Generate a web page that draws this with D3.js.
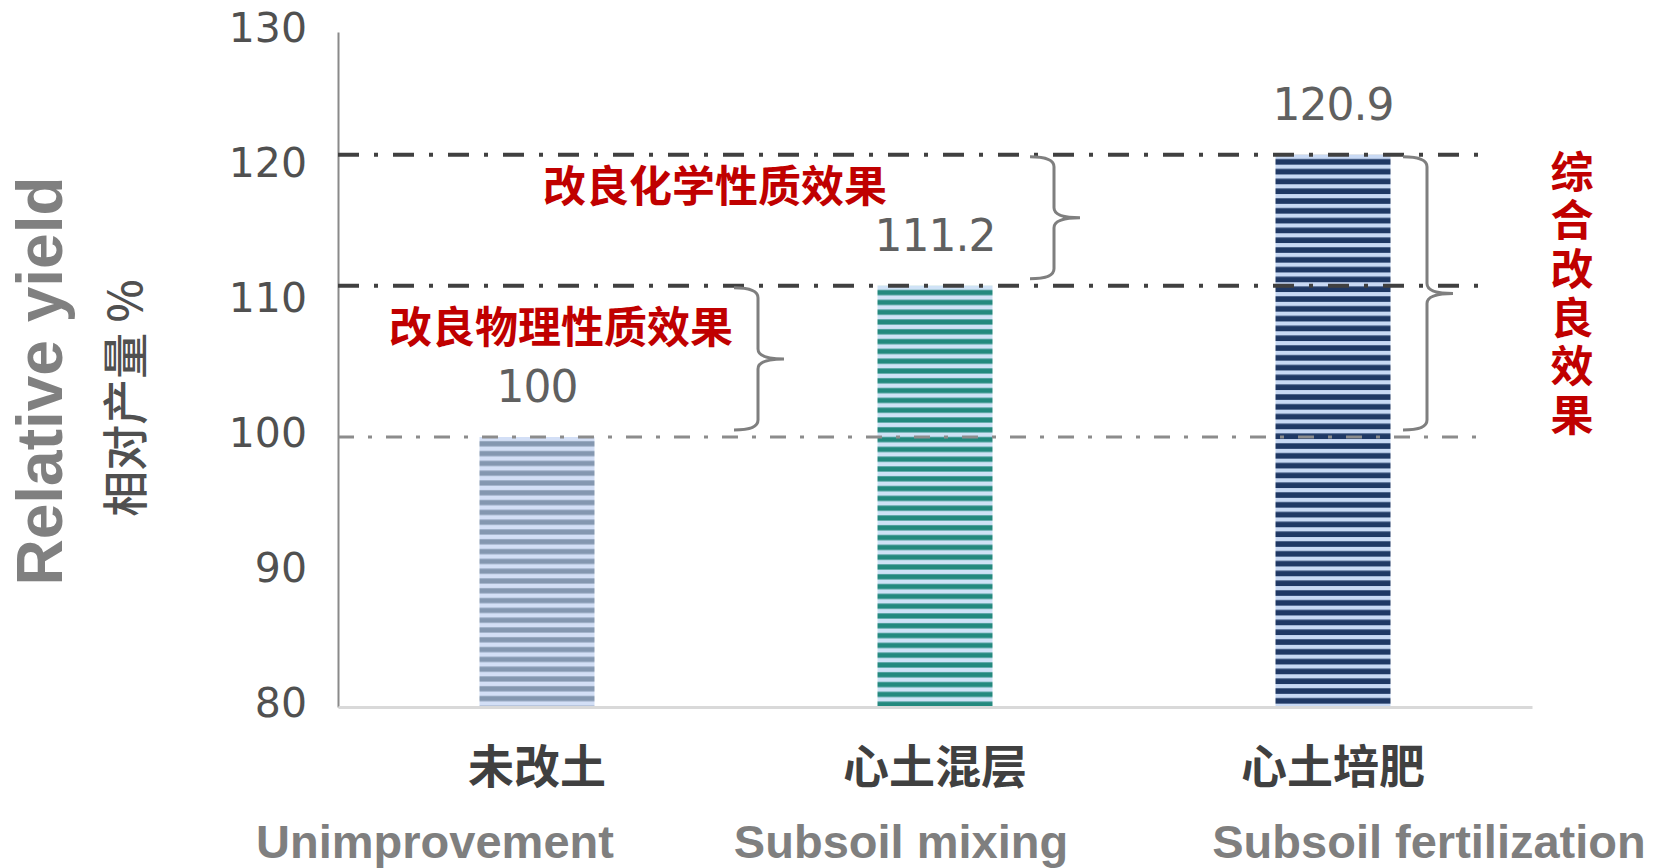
<!DOCTYPE html>
<html>
<head>
<meta charset="utf-8">
<style>
  body { margin: 0; background: #fff; }
  svg { display: block; }
</style>
</head>
<body>

<svg></svg>

<script src="https://d3js.org/d3.v7.min.js"></script>
<script>

// data
const categoriesZh = ["未改土", "心土混层", "心土培肥"];
const categoriesEn = ["Unimprovement", "Subsoil mixing", "Subsoil fertilization"];
const yields = [100, 111.2, 120.9];
const valueLabels = ["100", "111.2", "120.9"];
const yTicks = [80, 90, 100, 110, 120, 130];
const effectNames = ["改良物理性质效果", "改良化学性质效果", "综合改良效果"];
const effectRanges = [[100, 111.2], [111.2, 120.9], [100, 120.9]];

const width = 1654;
const height = 868;

const barColors = [
  { dark: "#8497b0", light: "#d3dff6" },
  { dark: "#23897e", light: "#cfe2f6" },
  { dark: "#1f3864", light: "#c8d9f4" }
];

const svg = d3.select("svg")
    .attr("width", width)
    .attr("height", height)
    .attr("viewBox", [0, 0, width, height]);

const x = d3.scaleBand()
    .domain(categoriesZh)
    .range([338, 1532])
    .padding(0);

const y = d3.scaleLinear()
    .domain([80, 130])
    .range([707, 32]);

const barW = 115;
const cx = d => x(d) + x.bandwidth() / 2;

// stripe patterns
const defs = svg.append("defs");
barColors.forEach((c, i) => {
  const p = defs.append("pattern")
      .attr("id", "stripe" + i)
      .attr("patternUnits", "userSpaceOnUse")
      .attr("width", 10)
      .attr("height", 9.8)
      .attr("y", y(yields[i]));
  p.append("rect").attr("width", 10).attr("height", 9.8).attr("fill", c.light);
  p.append("rect").attr("y", 4.2).attr("width", 10).attr("height", i == 2 ? 5.8 : 5.2).attr("fill", c.dark);
});

// y axis
const yAxis = svg.append("g")
    .attr("transform", "translate(338,0)")
    .call(d3.axisLeft(y).tickValues(yTicks).tickSize(0).tickSizeOuter(0).tickPadding(31));
yAxis.select(".domain").attr("stroke", "#8a8a8a").attr("stroke-width", 2);
yAxis.selectAll("text")
    .attr("dy", "0.24em")
    .attr("fill", "#505050")
    .style("font-family", "'DejaVu Sans', sans-serif")
    .style("font-size", "41px");

// bars
svg.selectAll("rect.bar")
  .data(yields)
  .join("rect")
    .attr("class", "bar")
    .attr("x", (d, i) => cx(categoriesZh[i]) - barW / 2)
    .attr("y", d => y(d))
    .attr("width", barW)
    .attr("height", d => y(80) - y(d))
    .attr("fill", (d, i) => "url(#stripe" + i + ")");

// x axis (baseline + chinese labels)
const xAxis = svg.append("g")
    .attr("transform", "translate(0," + y(80) + ")")
    .call(d3.axisBottom(x).tickSize(0).tickSizeOuter(0).tickPadding(60));
xAxis.select(".domain").attr("stroke", "#d9d9d9").attr("stroke-width", 3);
xAxis.selectAll("text")
    .attr("dy", "0.35em")
    .attr("fill", "#404040")
    .style("font-family", "'Noto Sans CJK SC', sans-serif")
    .style("font-weight", 700)
    .style("font-size", "46px");

// english labels
const enShift = [-102, -34, 96];
svg.selectAll("text.en")
  .data(categoriesEn)
  .join("text")
    .attr("class", "en")
    .attr("x", (d, i) => cx(categoriesZh[i]) + enShift[i])
    .attr("y", y(80) + 135)
    .attr("dy", "0.35em")
    .attr("text-anchor", "middle")
    .attr("fill", "#7f7f7f")
    .style("font-family", "'Liberation Sans', Arial, sans-serif")
    .style("font-weight", 700)
    .style("font-size", "47px")
    .text(d => d);

// value labels
svg.selectAll("text.val")
  .data(yields)
  .join("text")
    .attr("class", "val")
    .attr("x", (d, i) => cx(categoriesZh[i]))
    .attr("y", d => y(d) - 35)
    .attr("text-anchor", "middle")
    .attr("fill", "#606060")
    .style("font-family", "'DejaVu Sans', sans-serif")
    .style("font-size", "44px")
    .style("letter-spacing", "-1px")
    .text((d, i) => valueLabels[i]);

// dash-dot reference lines
svg.selectAll("line.ref")
  .data(yields)
  .join("line")
    .attr("class", "ref")
    .attr("x1", 338)
    .attr("x2", 1478)
    .attr("y1", d => y(d))
    .attr("y2", d => y(d))
    .attr("stroke", (d, i) => i == 0 ? "#8c8c8c" : "#404040")
    .attr("stroke-width", (d, i) => i == 0 ? 3 : 4)
    .attr("stroke-dasharray", (d, i) => i == 0 ? "16,14,4,14" : "21,15,4,15");

// braces
const braceLeft = [734, 1030, 1403];
function bracePath(x0, y0, y1) {
  const xs = x0 + 24, xt = x0 + 50, r = 10, ym = (y0 + y1) / 2;
  const p = d3.path();
  p.moveTo(x0, y0);
  p.quadraticCurveTo(xs, y0, xs, y0 + r);
  p.lineTo(xs, ym - r);
  p.quadraticCurveTo(xs, ym, xt, ym);
  p.moveTo(xt, ym);
  p.quadraticCurveTo(xs, ym, xs, ym + r);
  p.lineTo(xs, y1 - r);
  p.quadraticCurveTo(xs, y1, x0, y1);
  return p.toString();
}
svg.selectAll("path.brace")
  .data(effectRanges)
  .join("path")
    .attr("class", "brace")
    .attr("d", (d, i) => bracePath(braceLeft[i], y(d[1]) + 2, y(d[0]) - 7))
    .attr("fill", "none")
    .attr("stroke", "#7f7f7f")
    .attr("stroke-width", 3);

// effect labels
const effectX = [561, 715];
svg.selectAll("text.effect")
  .data(effectNames.slice(0, 2))
  .join("text")
    .attr("class", "effect")
    .attr("x", (d, i) => effectX[i])
    .attr("y", (d, i) => y((effectRanges[i][0] + effectRanges[i][1]) / 2) - 33)
    .attr("dy", "0.35em")
    .attr("text-anchor", "middle")
    .attr("fill", "#c00000")
    .style("font-family", "'Noto Sans CJK SC', sans-serif")
    .style("font-weight", 700)
    .style("font-size", "43px")
    .text(d => d);

// vertical label for the total effect
const total = effectRanges[2];
svg.append("text")
    .attr("x", 1572)
    .attr("y", y((total[0] + total[1]) / 2))
    .attr("text-anchor", "middle")
    .attr("fill", "#c00000")
    .style("writing-mode", "vertical-rl")
    .style("letter-spacing", "5.7px")
    .style("font-family", "'Noto Sans CJK SC', sans-serif")
    .style("font-weight", 700)
    .style("font-size", "43px")
    .text(effectNames[2]);

// axis titles
svg.append("text")
    .attr("transform", "translate(62,381) rotate(-90)")
    .attr("text-anchor", "middle")
    .attr("fill", "#808080")
    .style("font-family", "'Liberation Sans', Arial, sans-serif")
    .style("font-weight", 700)
    .style("font-size", "64px")
    .text("Relative yield");

svg.append("text")
    .attr("transform", "translate(122,398) rotate(-90)")
    .attr("text-anchor", "middle")
    .attr("dominant-baseline", "central")
    .attr("fill", "#505050")
    .style("font-family", "'Noto Sans CJK SC', sans-serif")
    .style("font-weight", 500)
    .style("font-size", "46px")
    .text("相对产量 %");

</script>

</body>
</html>
